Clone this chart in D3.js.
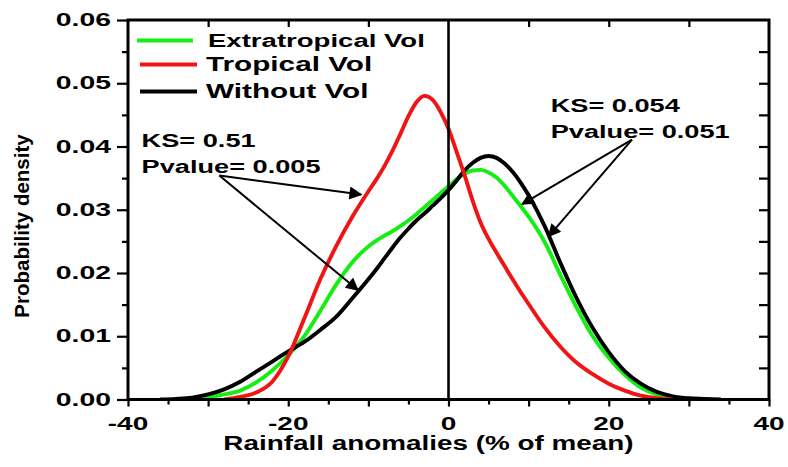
<!DOCTYPE html>
<html>
<head>
<meta charset="utf-8">
<script src="https://cdn.jsdelivr.net/npm/d3@7"></script>
<style>
  body { margin: 0; background: #fff; }
  svg { display: block; }
</style>
</head>
<body>
<svg id="chart" width="788" height="467"></svg>
<script>
// Rainfall anomaly grid (% of mean) shared by the three density curves
const anomaly = [-36, -34, -32, -30, -28, -26, -24, -22, -20, -18, -16, -14, -12, -10,
  -9, -8, -7, -6, -5, -4, -3, -2, -1, 0, 1, 2, 3, 4, 5, 6, 7, 8, 9,
  10, 12, 14, 16, 18, 20, 22, 24, 26, 28, 30, 32, 34, 36];

// Probability density of each experiment (null = outside the fitted support)
const extratropicalVol = [null, null, 0.0000, 0.0003, 0.0008, 0.0014, 0.0027, 0.0046, 0.0070, 0.0100, 0.0140, 0.0182, 0.0217, 0.0242,
  0.0251, 0.0259, 0.0266, 0.0274, 0.0283, 0.0293, 0.0304, 0.0315, 0.0326, 0.0337, 0.0348, 0.0357, 0.0362, 0.0363, 0.0359, 0.0351, 0.0338, 0.0322, 0.0306,
  0.0289, 0.0249, 0.0196, 0.0145, 0.0100, 0.0066, 0.0039, 0.0019, 0.0008, 0.0003, 0.0000, null, null, null];

const tropicalVol = [null, null, null, null, 0.0000, 0.0004, 0.0011, 0.0028, 0.0068, 0.0128, 0.0190, 0.0243, 0.0289, 0.0329,
  0.0348, 0.0369, 0.0393, 0.0420, 0.0448, 0.0470, 0.0480, 0.0474, 0.0455, 0.0428, 0.0392, 0.0355, 0.0315, 0.0280, 0.0254, 0.0232, 0.0211, 0.0190, 0.0170,
  0.0151, 0.0114, 0.0083, 0.0058, 0.0040, 0.0025, 0.0014, 0.0006, 0.0002, 0.0000, null, null, null, null];

const withoutVol = [0.0000, 0.0001, 0.0003, 0.0008, 0.0016, 0.0028, 0.0044, 0.0060, 0.0076, 0.0091, 0.0110, 0.0131, 0.0160, 0.0190,
  0.0206, 0.0223, 0.0240, 0.0256, 0.0270, 0.0283, 0.0294, 0.0306, 0.0318, 0.0331, 0.0346, 0.0362, 0.0374, 0.0382, 0.0385, 0.0382, 0.0373, 0.0360, 0.0343,
  0.0323, 0.0274, 0.0215, 0.0160, 0.0113, 0.0075, 0.0045, 0.0025, 0.0012, 0.0005, 0.0002, 0.0001, 0.0000, null];

const seriesNames = ["Extratropical Vol", "Tropical Vol", "Without Vol"];
const seriesColors = ["#14ee14", "#f01414", "#000000"];

const xTickLabels = [-40, -20, 0, 20, 40];
const yTickLabels = [0.00, 0.01, 0.02, 0.03, 0.04, 0.05, 0.06];

// KS test annotations: text anchor and arrow targets in data units
const ksNotes = [
  { lines: ["KS= 0.51", "Pvalue= 0.005"], at: [-38.3, 0.0400],
    from: [-28.6, 0.0354], to: [[-10.9, 0.0324], [-11.3, 0.0173]] },
  { lines: ["KS= 0.054", "Pvalue= 0.051"], at: [12.75, 0.0455],
    from: [22.9, 0.0411], to: [[9.2, 0.0309], [12.5, 0.0258]] }
];

const FONT = "'Liberation Sans', Arial, Helvetica, sans-serif";

const svg = d3.select("#chart");
const x = d3.scaleLinear().domain([-40, 40]).range([128, 769]);
const y = d3.scaleLinear().domain([0, 0.06]).range([399.5, 20]);

// Wide bold text, stretched horizontally around its anchor
function label(parent, txt, px, py, size, sx, anchor) {
  return parent.append("text")
    .attr("transform", `translate(${px},${py}) scale(${sx},1)`)
    .attr("text-anchor", anchor || "start")
    .attr("font-family", FONT)
    .attr("font-weight", "bold")
    .attr("font-size", size)
    .attr("fill", "#000")
    .text(txt);
}

// Clip curves to the plotting frame
const defs = svg.append("defs");
defs.append("clipPath").attr("id", "plot-clip")
  .append("rect")
  .attr("x", x(-40)).attr("y", y(0.06))
  .attr("width", x(40) - x(-40)).attr("height", y(0) - y(0.06));

defs.append("marker")
  .attr("id", "arrowhead")
  .attr("viewBox", "0 0 10 10")
  .attr("refX", 9).attr("refY", 5)
  .attr("markerWidth", 19).attr("markerHeight", 13)
  .attr("markerUnits", "userSpaceOnUse")
  .attr("orient", "auto")
  .append("path").attr("d", "M0,0 L10,5 L0,10 Z").attr("fill", "#000");

// Density curves
const line = d3.line()
  .defined(d => d[1] != null)
  .x(d => x(d[0]))
  .y(d => y(d[1]))
  .curve(d3.curveMonotoneX);

const series = [extratropicalVol, tropicalVol, withoutVol];
const drawOrder = [0, 2, 1];
const curves = svg.append("g").attr("clip-path", "url(#plot-clip)");
drawOrder.forEach(i => {
  curves.append("path")
    .datum(anomaly.map((a, k) => [a, series[i][k]]))
    .attr("fill", "none")
    .attr("stroke", seriesColors[i])
    .attr("stroke-width", 3.9)
    .attr("stroke-linejoin", "round")
    .attr("d", line);
});

// Zero reference line
svg.append("line")
  .attr("x1", x(0)).attr("x2", x(0))
  .attr("y1", y(0.06)).attr("y2", y(0))
  .attr("stroke", "#000").attr("stroke-width", 2.6);

// Bottom axis: ticks every 5, labels every 20
const xAxis = d3.axisBottom(x)
  .tickValues(d3.range(-40, 41, 5))
  .tickSizeOuter(0)
  .tickFormat("");
const gx = svg.append("g").attr("transform", `translate(0,${y(0)})`).call(xAxis);
gx.select(".domain").remove();
gx.selectAll(".tick line")
  .attr("y2", d => d % 10 === 0 ? 7 : 5)
  .attr("stroke", "#000").attr("stroke-width", 2.2);
xTickLabels.forEach(v => label(svg, String(v), x(v), 429.5, 17.5, 1.6, "middle"));

// Left axis: ticks every 0.005, labels every 0.01
const yTicks = d3.range(13).map(i => i * 0.005);
const yAxis = d3.axisLeft(y).tickValues(yTicks).tickSizeOuter(0).tickFormat("");
const gy = svg.append("g").attr("transform", `translate(${x(-40)},0)`).call(yAxis);
gy.select(".domain").remove();
gy.selectAll(".tick line")
  .attr("x2", (d, i) => i % 2 === 0 ? -11 : -6)
  .attr("stroke", "#000").attr("stroke-width", 2.2);
yTickLabels.forEach(v => label(svg, d3.format(".2f")(v), 111, y(v) + 6, 17.5, 1.62, "end"));

// Mirrored inward ticks on the top and right edges
const gt = svg.append("g").attr("transform", `translate(0,${y(0.06)})`)
  .call(d3.axisTop(x).tickValues([-30, -20, -10, 10, 20, 30]).tickSizeOuter(0).tickFormat(""));
gt.select(".domain").remove();
gt.selectAll(".tick line").attr("y2", 7).attr("stroke", "#000").attr("stroke-width", 2.2);

const gr = svg.append("g").attr("transform", `translate(${x(40)},0)`)
  .call(d3.axisRight(y).tickValues(yTicks.slice(1, 12)).tickSizeOuter(0).tickFormat(""));
gr.select(".domain").remove();
gr.selectAll(".tick line").attr("x2", -10).attr("stroke", "#000").attr("stroke-width", 2.2);

// Plot frame
svg.append("rect")
  .attr("x", x(-40)).attr("y", y(0.06))
  .attr("width", x(40) - x(-40)).attr("height", y(0) - y(0.06))
  .attr("fill", "none").attr("stroke", "#000").attr("stroke-width", 3);

// Axis titles
label(svg, "Rainfall anomalies (% of mean)", 428.5, 450, 20.5, 1.36, "middle");
svg.append("text")
  .attr("transform", "translate(28.5,226) rotate(-90)")
  .attr("text-anchor", "middle")
  .attr("font-family", FONT)
  .attr("font-weight", "bold")
  .attr("font-size", 20.5)
  .text("Probability density");

// Legend
const legendRows = [40.5, 64.5, 91.5];
const legendSizes = [19, 20.5, 20.5];
seriesNames.forEach((name, i) => {
  svg.append("line")
    .attr("x1", i === 0 ? 137 : 140).attr("x2", i === 0 ? 193 : 197)
    .attr("y1", legendRows[i]).attr("y2", legendRows[i])
    .attr("stroke", seriesColors[i]).attr("stroke-width", 3.9);
  label(svg, name, i === 0 ? 208 : 206, legendRows[i] + 6.5, legendSizes[i], 1.45, "start");
});

// KS annotations with arrows
ksNotes.forEach(note => {
  note.lines.forEach((t, j) => label(svg, t, x(note.at[0]), y(note.at[1]) + j * 26, 19, 1.43, "start"));
  note.to.forEach(tip => {
    svg.append("line")
      .attr("x1", x(note.from[0])).attr("y1", y(note.from[1]))
      .attr("x2", x(tip[0])).attr("y2", y(tip[1]))
      .attr("stroke", "#000").attr("stroke-width", 2)
      .attr("marker-end", "url(#arrowhead)");
  });
});
</script>
</body>
</html>
